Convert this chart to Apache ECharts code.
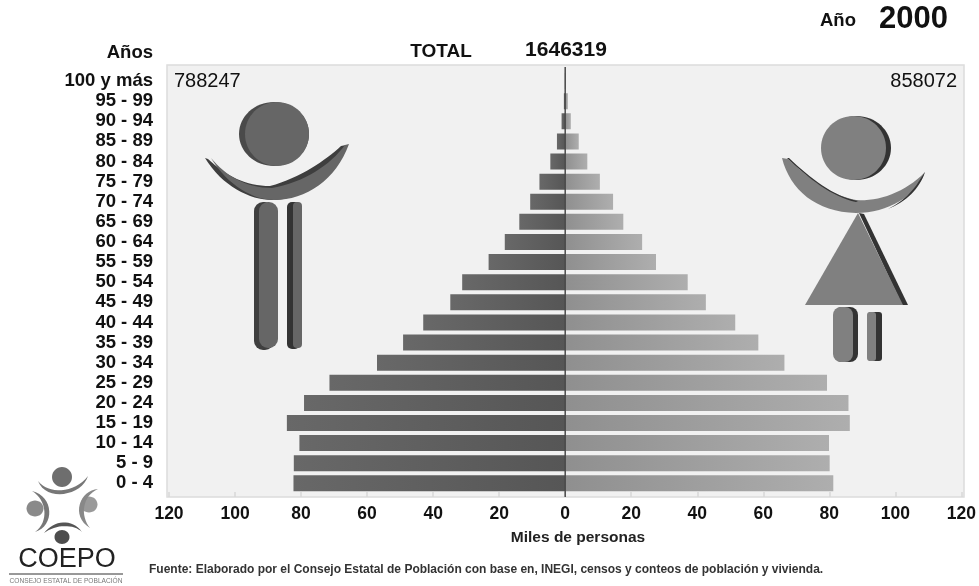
<!DOCTYPE html>
<html><head><meta charset="utf-8">
<style>html,body{margin:0;padding:0;background:#fff}#c{width:979px;height:586px}</style>
<script src="https://cdn.jsdelivr.net/npm/echarts@6/dist/echarts.min.js"></script>
</head><body><div id="c"></div>
<script>
const ageGroups = ['0 - 4','5 - 9','10 - 14','15 - 19','20 - 24','25 - 29','30 - 34','35 - 39','40 - 44','45 - 49','50 - 54','55 - 59','60 - 64','65 - 69','70 - 74','75 - 79','80 - 84','85 - 89','90 - 94','95 - 99','100 y más'];
const hombres = [82.3,82.2,80.5,84.3,79.1,71.4,57,49.1,43,34.8,31.2,23.2,18.3,13.9,10.6,7.8,4.5,2.5,1.1,0.4,0.1];
const mujeres = [81.2,80.1,79.9,86.2,85.8,79.3,66.4,58.5,51.5,42.6,37.1,27.5,23.3,17.6,14.5,10.5,6.7,4.1,1.7,0.8,0.1];
const xTicks = {min:-120,max:120,interval:20};
const font = '"Liberation Sans",Arial,sans-serif';
const chart = echarts.init(document.getElementById('c'),null,{renderer:'canvas'});

function toPoints(d){
  const t=d.match(/[MLC]|-?[\d.]+/g);let i=0,pts=[],cur=[0,0];
  while(i<t.length){const c=t[i++];
    if(c==='M'||c==='L'){cur=[+t[i],+t[i+1]];i+=2;pts.push(cur);}
    else if(c==='C'){const a=[+t[i],+t[i+1]],b=[+t[i+2],+t[i+3]],e=[+t[i+4],+t[i+5]];i+=6;
      for(let k=1;k<=16;k++){const s=k/16,m=1-s;
        pts.push([m*m*m*cur[0]+3*m*m*s*a[0]+3*m*s*s*b[0]+s*s*s*e[0],m*m*m*cur[1]+3*m*m*s*a[1]+3*m*s*s*b[1]+s*s*s*e[1]]);}
      cur=e;}
  }
  return pts;
}
const txt=(x,y,text,size,opt={})=>({type:'text',z:50,style:{x,y,text,font:`${opt.weight||'bold'} ${size}px ${font}`,fill:opt.fill||'#111',align:opt.align||'left',verticalAlign:'middle'}});
const pth=(d,fill)=>({type:'polygon',z:10,shape:{points:toPoints(d)},style:{fill}});
const ell=(cx,cy,rx,ry,fill)=>({type:'ellipse',z:10,shape:{cx,cy,rx,ry},style:{fill}});
const rr=(x,y,width,height,r,fill)=>({type:'rect',z:10,shape:{x,y,width,height,r},style:{fill}});

const MAN='#666666', WOMAN='#808080', WD='#333333';
const figures=[
 // hombre
 ell(274,134,35,32,'#4a4a4a'), ell(277,134,32,32,MAN),
 pth('M205 158 C222 186 250 200 272 200 C304 200 334 176 346 145 L341 146 C326 160 300 178 270 186 C246 186 226 176 208 159','#3e3e3e'),
 pth('M211 158 C228 186 254 200 274 200 C306 200 336 180 349 144 L345 145 C330 165 305 182 272 188 C246 188 226 176 211 158',MAN),
 rr(254,202,20,148,[9,9,9,9],'#3f3f3f'), rr(259,202,19,146,[9,9,9,9],MAN),
 rr(287,202,13,147,[5,5,5,5],'#333333'), rr(293,202,9,146,[4,4,4,4],MAN),
 // mujer
 ell(856.5,148,34.5,32,'#333333'), ell(853.5,148,32.5,32,WOMAN),
 pth('M782 158 L788 159 C808 178 832 196 856 200 C878 202 906 192 925 172 C916 196 888 213 856 213 C816 212 790 190 782 158',WOMAN),
 pth('M787 158 L789 158 C810 178 834 197 858 201 L856 202 C832 197 808 178 787 158',WD),
 pth('M919 181 C921 178 923 175 925 172 C920 188 906 202 888 209 C900 203 912 193 919 181',WD),
 pth('M859 213 L864 214 L908 305 L902 305',WD),
 pth('M858 213 L903 305 L805 305',WOMAN),
 rr(834,307,24,55,[8,8,8,8],WD), rr(833,307,20,55,[8,8,8,8],WOMAN),
 rr(868,312,14,49,[3,3,3,3],WD), rr(867,312,9,49,[3,3,3,3],WOMAN),
 // logo
 ell(62,477,10,10,'#6e6e6e'), ell(35,508.5,8.5,8,'#8a8a8a'), ell(89,504.5,8.5,8,'#9a9a9a'), ell(62,537,7.5,7,'#4d4d4d'),
 pth('M38 481 C48 494 74 494 88 476 C82 496 46 502 38 481','#777777'),
 pth('M32 491 C47 500 49 522 35 532 C55 526 54 496 32 491','#777777'),
 pth('M98 489 C80 490 70 516 90 528 C80 516 82 496 98 489','#888888'),
 pth('M44 533 C56 524 74 524 82 532 C72 518 54 520 44 533','#555555'),
 {type:'line',z:10,shape:{x1:9,y1:574,x2:123,y2:574},style:{stroke:'#333',lineWidth:1}},
 txt(67,560,'COEPO',27,{weight:'normal',align:'center',fill:'#222'}),
 txt(66,581,'CONSEJO ESTATAL DE POBLACIÓN',6.6,{weight:'normal',align:'center',fill:'#777'}),
 // textos
 txt(153,53,'Años',18.5,{align:'right'}),
 txt(441,52,'TOTAL',19,{align:'center'}),
 txt(566,50,'1646319',21,{align:'center'}),
 txt(820,21,'Año',18.5),
 txt(879,19,'2000',31),
 txt(174,81,'788247',20,{weight:'normal'}),
 txt(957,81,'858072',20,{weight:'normal',align:'right'}),
 txt(578,538,'Miles de personas',15.5,{align:'center',fill:'#222'}),
 txt(149,570,'Fuente: Elaborado por el Consejo Estatal de Población con base en, INEGI, censos y conteos de población y vivienda.',12,{fill:'#333'})
];
const panel={type:'rect',z:-5,shape:{x:167,y:65,width:797,height:432},style:{fill:'#f1f1f1',stroke:'#dcdcdc',lineWidth:1.5}};

chart.setOption({
 animation:false,
 backgroundColor:'#fff',
 textStyle:{fontFamily:font},
 grid:{left:169,right:15,top:71,height:422.4},
 xAxis:{type:'value',min:xTicks.min,max:xTicks.max,interval:xTicks.interval,offset:3.6,
  axisLine:{show:false},
  axisTick:{show:true,inside:true,length:5,lineStyle:{color:'#d8d8d8',width:1.5}},
  splitLine:{show:false},
  axisLabel:{color:'#111',fontWeight:'bold',fontSize:17.5,margin:8,fontFamily:font,formatter:v=>String(Math.abs(v))}},
 yAxis:{type:'category',data:ageGroups,axisLine:{show:false},axisTick:{show:false},
  axisLabel:{color:'#111',fontWeight:'bold',fontSize:18.5,margin:16,interval:0,fontFamily:font}},
 series:[
  {name:'Hombres',type:'bar',barWidth:16,barGap:'-100%',data:hombres.map(v=>-v),
   itemStyle:{color:new echarts.graphic.LinearGradient(0,0,1,0,[{offset:0,color:'#686868'},{offset:1,color:'#565656'}])}},
  {name:'Mujeres',type:'bar',barWidth:16,data:mujeres,
   itemStyle:{color:new echarts.graphic.LinearGradient(0,0,1,0,[{offset:0,color:'#8f8f8f'},{offset:1,color:'#aeaeae'}])}}
 ],
 graphic:{elements:[panel].concat(figures)}
});
const x0=chart.convertToPixel({xAxisIndex:0},0);
chart.setOption({graphic:{elements:[
 {id:'zero',type:'line',z:40,shape:{x1:x0,y1:67,x2:x0,y2:497},style:{stroke:'#4a4a4a',lineWidth:1.5}}
]}});
</script></body></html>
